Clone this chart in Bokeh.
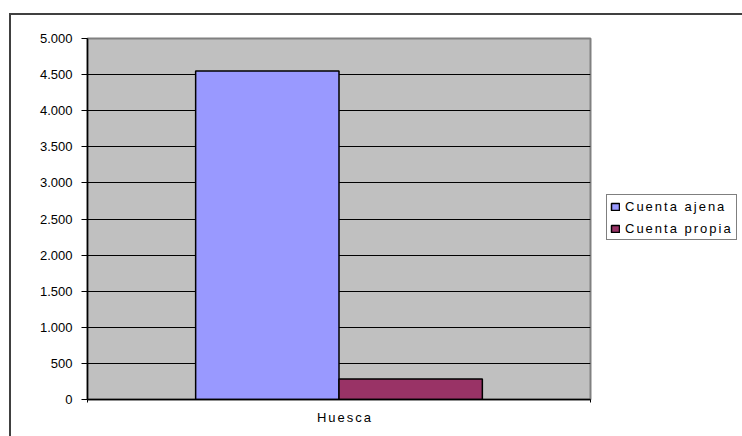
from bokeh.plotting import figure
from bokeh.layouts import row
from bokeh.models import (Range1d, FixedTicker, CustomJSTickFormatter, Legend,
                          LegendItem, ColumnDataSource, InlineStyleSheet)
from bokeh.embed import file_html
from bokeh.resources import INLINE

# ---- data ----
categories = ["Huesca"]
series_names = ["Cuenta ajena", "Cuenta propia"]
cuenta_ajena = [4550]
cuenta_propia = [285]
y_ticks = [0, 500, 1000, 1500, 2000, 2500, 3000, 3500, 4000, 4500, 5000]
colors = ["#9999FF", "#993366"]

FONT = "Liberation Sans"
n = len(categories)
centers = [i + 0.5 for i in range(n)]
bar_w = 0.285
offset = 0.1425

y_range = Range1d(y_ticks[0], y_ticks[-1])
thousands = CustomJSTickFormatter(
    code="return tick.toString().replace(/\\B(?=(\\d{3})+(?!\\d))/g, '.');")

# ---------- left figure: y-axis labels only ----------
left = figure(frame_width=1, frame_height=361,
              x_range=Range1d(0, 1), y_range=y_range,
              output_backend="svg", toolbar_location=None,
              x_axis_location=None, min_border_left=78, min_border_right=0,
              min_border_top=38, min_border_bottom=37)
left.outline_line_color = None
left.background_fill_color = "white"
left.grid.visible = False
ly = left.yaxis[0]
ly.ticker = FixedTicker(ticks=y_ticks)
ly.formatter = thousands
ly.axis_line_color = None
ly.major_tick_line_color = None
ly.minor_tick_line_color = None
ly.major_tick_out = 0
ly.major_tick_in = 0
ly.major_label_standoff = 6
ly.major_label_text_font = FONT
ly.major_label_text_font_size = "13px"
ly.major_label_text_color = "black"
left.stylesheets = [InlineStyleSheet(css="""
:host { position: relative; }
:host::before { content: ''; position: absolute; left: 9px; top: 13px;
  right: 0; bottom: 0; border-top: 2px solid #404040;
  border-left: 2px solid #404040; pointer-events: none; z-index: 100; }
""")]

# ---------- main figure ----------
p = figure(frame_width=503, frame_height=361,
           x_range=Range1d(0, n), y_range=y_range,
           output_backend="svg", toolbar_location=None,
           min_border_left=8, min_border_right=152,
           min_border_top=38, min_border_bottom=37)
p.styles = {"letter-spacing": "2px"}
p.stylesheets = [InlineStyleSheet(css="""
:host { position: relative; }
:host::before { content: ''; position: absolute; left: 0; top: 13px;
  right: 0; height: 0; border-top: 2px solid #404040;
  pointer-events: none; z-index: 100; }
""")]

p.background_fill_color = "#C0C0C0"
p.border_fill_color = "white"
p.outline_line_color = "#808080"
p.outline_line_width = 2

src_a = ColumnDataSource(dict(x=[c - offset for c in centers], top=cuenta_ajena))
src_p = ColumnDataSource(dict(x=[c + offset for c in centers], top=cuenta_propia))

r1 = p.vbar(x="x", top="top", bottom=0, width=bar_w, source=src_a,
            fill_color=colors[0], line_color="black", line_width=1.5)
r2 = p.vbar(x="x", top="top", bottom=0, width=bar_w, source=src_p,
            fill_color=colors[1], line_color="black", line_width=1.5)

# grid (top line is the plot-area border, bottom is the axis)
p.xgrid.visible = False
p.ygrid.ticker = FixedTicker(ticks=y_ticks[1:-1])
p.ygrid.grid_line_color = "black"
p.ygrid.grid_line_width = 1
p.ygrid.level = "underlay"

# y axis (line + ticks; labels drawn by left figure)
ya = p.yaxis[0]
ya.ticker = FixedTicker(ticks=y_ticks)
ya.formatter = CustomJSTickFormatter(code="return '';")
ya.major_tick_out = 6
ya.major_tick_in = 0
ya.minor_tick_out = 0
ya.minor_tick_in = 0
ya.major_label_standoff = 0
ya.axis_line_color = "black"
ya.axis_line_width = 1.5
ya.major_tick_line_color = "black"

# x axis
xa = p.xaxis[0]
xa.ticker = FixedTicker(ticks=centers, minor_ticks=list(range(n + 1)))
xa.major_label_overrides = {c: name for c, name in zip(centers, categories)}
xa.major_tick_out = 0
xa.major_tick_in = 0
xa.minor_tick_out = 3
xa.minor_tick_in = 0
xa.minor_tick_line_color = "black"
xa.axis_line_color = "black"
xa.axis_line_width = 1.5
xa.major_label_text_font = FONT
xa.major_label_text_font_size = "13px"
xa.major_label_text_color = "black"
xa.major_label_standoff = 7

# legend (right panel)
legend = Legend(items=[LegendItem(label=series_names[0], renderers=[r1]),
                       LegendItem(label=series_names[1], renderers=[r2])],
                location=(16, 159), orientation="vertical",
                border_line_color="black", border_line_width=1,
                background_fill_color="white", background_fill_alpha=1,
                padding=3, spacing=6, margin=0,
                glyph_width=10, glyph_height=9, label_standoff=5,
                label_height=16, label_width=90,
                label_text_font=FONT, label_text_font_size="13px",
                label_text_color="black")
p.add_layout(legend, "right")

layout = row(left, p, spacing=0)
open("out.html", "w").write(file_html(layout, INLINE))
